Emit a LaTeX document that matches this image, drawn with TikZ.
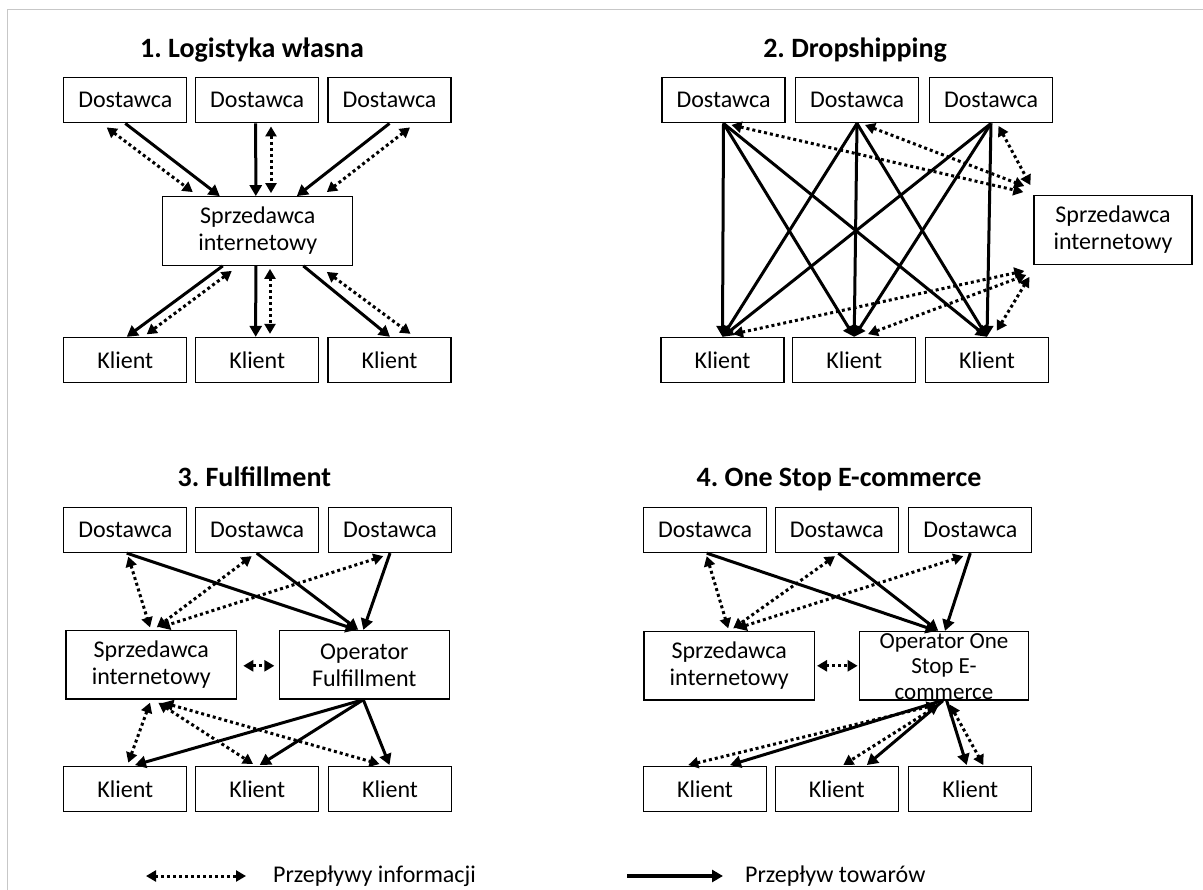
\documentclass[tikz,border=0pt]{standalone}
\usepackage{fontspec}
\setmainfont{Carlito}
\usetikzlibrary{arrows.meta,calc}
\frenchspacing

\begin{document}
\begin{tikzpicture}[x=1pt,y=-1pt,
  box/.style={draw,line width=1.3pt,minimum height=45pt,minimum width=123pt,
    inner sep=0pt,font=\fontsize{24}{27}\selectfont,align=center},
  bigbox/.style={box,minimum height=68.5pt},
  title/.style={font=\fontsize{28}{32}\selectfont\bfseries,anchor=base,inner sep=0pt},
  legtext/.style={font=\fontsize{24}{27}\selectfont,anchor=west,inner sep=0pt},
  goods/.style={line width=3pt,-{Triangle[length=11pt,width=12pt]}},
  info/.style={line width=3pt,dash pattern=on 3pt off 3pt,
    {Triangle[length=10pt,width=11pt]}-{Triangle[length=10pt,width=11pt]}},
]
\useasboundingbox (0,0) rectangle (1203,890);
% page frame
\draw[black!22,line width=0.8pt] (7.5,890) -- (7.5,9) -- (1203,9);

% ---------- 1. Logistyka własna ----------
\node[title] (t1) at (252,57.5) {1. Logistyka własna};
\node[box] (d11) at (125.3,100.3) {Dostawca};
\node[box] (d12) at (257.2,100.3) {Dostawca};
\node[box] (d13) at (389.5,100.3) {Dostawca};
\node[bigbox,minimum width=190pt] (s1) at (257.8,231) {Sprzedawca\\internetowy};
\node[box] (k11) at (125.3,360) {Klient};
\node[box] (k12) at (257.2,360) {Klient};
\node[box] (k13) at (389.5,360) {Klient};

\draw[goods] (d11.south) -- ($(s1.north)+(-38,0)$);
\draw[info] ($(d11.south)+(-18.6,4)$) -- ($(s1.north)+(-65,-4)$);
\draw[goods] ($(d12.south)+(-1.5,0)$) -- ($(s1.north)+(-2,0)$);
\draw[info] ($(d12.south)+(13.8,3)$) -- ($(s1.north)+(13.2,-3)$);
\draw[goods] (d13.south) -- ($(s1.north)+(39,0)$);
\draw[info] ($(d13.south)+(20.5,4)$) -- ($(s1.north)+(69,-4)$);

\draw[goods] ($(s1.south)+(-35,0)$) -- ($(k11.north)+(1.4,0)$);
\draw[info] ($(s1.south)+(-26,5)$) -- ($(k11.north)+(21.4,-2.5)$);
\draw[goods] ($(s1.south)+(-2,0)$) -- ($(k12.north)+(-1.5,0)$);
\draw[info] ($(s1.south)+(12.2,3)$) -- ($(k12.north)+(12.8,-3)$);
\draw[goods] ($(s1.south)+(45.5,0)$) -- ($(k13.north)+(0.5,0)$);
\draw[info] ($(s1.south)+(69,6)$) -- ($(k13.north)+(21,-3)$);

% ---------- 2. Dropshipping ----------
\node[title] (t2) at (855,57.5) {2. Dropshipping};
\node[box] (d21) at (723.5,100.3) {Dostawca};
\node[box] (d22) at (857,100.3) {Dostawca};
\node[box] (d23) at (991,100.3) {Dostawca};
\node[bigbox,minimum width=158pt] (s2) at (1113,230) {Sprzedawca\\internetowy};
\node[box] (k21) at (722.5,360) {Klient};
\node[box] (k22) at (854.2,360) {Klient};
\node[box] (k23) at (987,360) {Klient};

\foreach \d in {d21,d22,d23}{
  \foreach \k in {k21,k22,k23}{
    \draw[goods] (\d.south) -- (\k.north);
  }
}
\draw[info] ($(d21.south)+(8,1.5)$) -- ($(s2.north west)+(-10,-3)$);
\draw[info] ($(d22.south)+(8,1.5)$) -- ($(s2.north west)+(-9,-9)$);
\draw[info] ($(d23.south)+(7.5,2.5)$) -- ($(s2.north west)+(-3,-10)$);
\draw[info] ($(k21.north)+(10.5,-2.7)$) -- ($(s2.south west)+(-9,6)$);
\draw[info] ($(k22.north)+(13.8,-2.7)$) -- ($(s2.south west)+(-7,10)$);
\draw[info] ($(k23.north)+(9.7,-6)$) -- ($(s2.south west)+(-4,12)$);

% ---------- 3. Fulfillment ----------
\node[title] (t3) at (254.3,487) {3. Fulfillment};
\node[box] (d31) at (125.3,530) {Dostawca};
\node[box] (d32) at (257.2,530) {Dostawca};
\node[box] (d33) at (390,530) {Dostawca};
\node[bigbox,minimum width=170.7pt] (s3) at (151.3,664.8) {Sprzedawca\\internetowy};
\node[bigbox,minimum width=170pt] (o3) at (364.3,664.8) {Operator\\Fulfillment};
\node[box] (k31) at (125.3,789.2) {Klient};
\node[box] (k32) at (257.2,789.2) {Klient};
\node[box] (k33) at (390,789.2) {Klient};

\draw[goods] ($(d31.south)+(1.4,0)$) -- ($(o3.north)+(-7.6,0)$);
\draw[info] ($(d31.south)+(3,3.5)$) -- ($(s3.north)+(-1.3,-2.5)$);
\draw[info] ($(d32.south)+(-5.5,3)$) -- ($(s3.north)+(5.4,-2.5)$);
\draw[goods] ($(d32.south)+(-0.5,0)$) -- ($(o3.north)+(-6,0)$);
\draw[info] ($(d33.south)+(-6.7,3)$) -- ($(s3.north)+(8.7,-2.5)$);
\draw[goods] (d33.south) -- ($(o3.north)+(-1,0)$);
\draw[info] ($(s3.east)+(6,1)$) -- ($(o3.west)+(-4.3,1)$);

\draw[info] ($(s3.south)+(-1.3,3)$) -- ($(k31.north)+(3,-3.4)$);
\draw[info] ($(s3.south)+(7,3)$) -- ($(k32.north)+(-4.2,-2)$);
\draw[info] ($(s3.south)+(12,3)$) -- ($(k33.north)+(-10.5,-2)$);
\draw[goods] ($(o3.south)+(-1,0)$) -- ($(k31.north)+(9.7,-1)$);
\draw[goods] ($(o3.south)+(-1,0)$) -- ($(k32.north)+(2.5,-1)$);
\draw[goods] ($(o3.south)+(-1,0)$) -- ($(k33.north)+(-0.5,-1)$);

% ---------- 4. One Stop E-commerce ----------
\node[title] (t4) at (839,487) {4. One Stop E-commerce};
\node[box] (d41) at (705,530) {Dostawca};
\node[box] (d42) at (836.8,530) {Dostawca};
\node[box] (d43) at (970.3,530) {Dostawca};
\node[bigbox,minimum width=170.3pt] (s4) at (729.2,665.8) {Sprzedawca\\internetowy};
\node[bigbox,minimum width=169.4pt,
  label={[font=\fontsize{23}{25.5}\selectfont,align=center,yshift=-0.5pt]center:Operator One\\Stop E-\\commerce}]
  (o4) at (944,665.8) {};
\node[box] (k41) at (705,789.2) {Klient};
\node[box] (k42) at (836.8,789.2) {Klient};
\node[box] (k43) at (970.3,789.2) {Klient};

\draw[goods] ($(d41.south)+(1.7,0)$) -- ($(o4.north)+(-7.3,0)$);
\draw[info] ($(d41.south)+(1.7,3)$) -- ($(s4.north)+(-1,-2.5)$);
\draw[info] ($(d42.south)+(-1.8,3)$) -- ($(s4.north)+(4,-2.5)$);
\draw[goods] ($(d42.south)+(1.5,0)$) -- ($(o4.north)+(-5.7,0)$);
\draw[info] ($(d43.south)+(-7,3)$) -- ($(s4.north)+(7.5,-2.5)$);
\draw[goods] (d43.south) -- ($(o4.north)+(1,0)$);
\draw[info] ($(s4.east)+(2,0)$) -- ($(o4.west)+(-1,0)$);

\draw[info] ($(o4.south)+(-7.3,4)$) -- ($(k41.north)+(-16.7,-1)$);
\draw[goods] ($(o4.south)+(-2.3,0)$) -- ($(k41.north)+(25,-1)$);
\draw[info] ($(o4.south)+(-5,4)$) -- ($(k42.north)+(6.5,-1)$);
\draw[goods] ($(o4.south)+(-1,0)$) -- ($(k42.north)+(30,-1)$);
\draw[goods] ($(o4.south)+(2.7,0)$) -- ($(k43.north)+(-3.6,-1)$);
\draw[info] ($(o4.south)+(6,4)$) -- ($(k43.north)+(13,-1)$);

% ---------- legend ----------
\coordinate (li1) at (146,876);
\coordinate (li2) at (246,876);
\coordinate (lg1) at (627,876);
\coordinate (lg2) at (723,876);
\draw[info] (li1) -- (li2);
\node[legtext] (lti) at (273,876) {Przepływy informacji};
\draw[goods,line width=4.5pt] (lg1) -- (lg2);
\node[legtext] (ltg) at (745,876) {Przepływ towarów};
\end{tikzpicture}
\end{document}
